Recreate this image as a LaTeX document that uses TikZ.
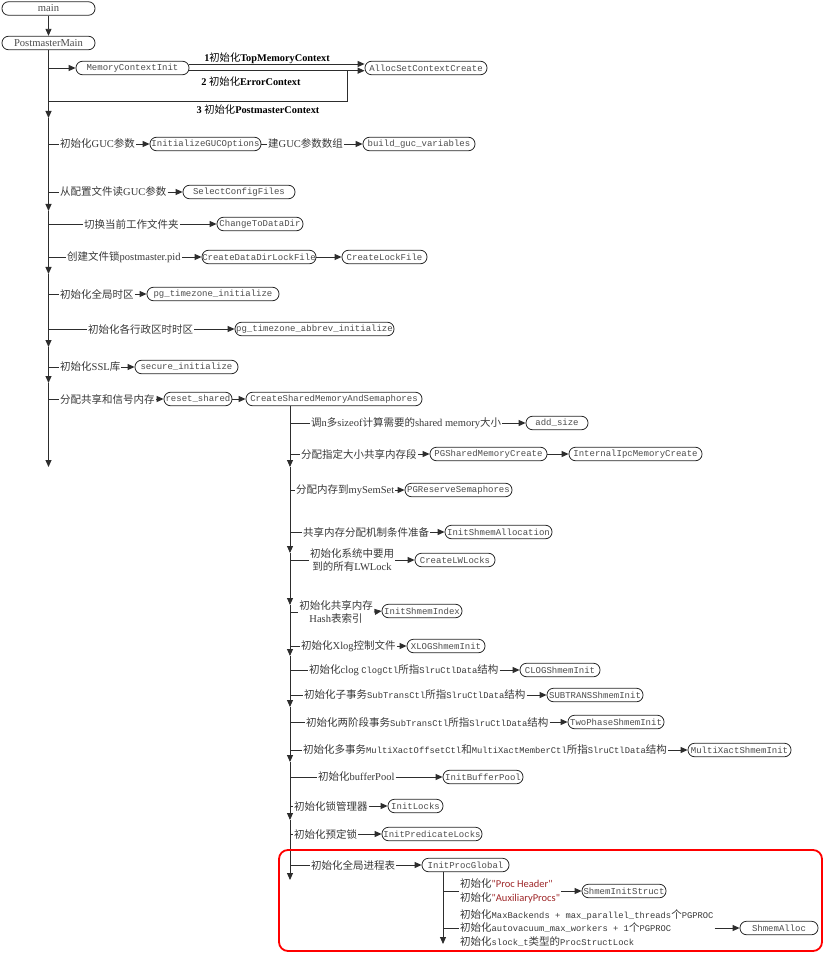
\documentclass[tikz,border=0pt]{standalone}
\usepackage{fontspec}
\setmainfont{Liberation Serif}
\setmonofont{Liberation Mono}
\newfontfamily\cjkfont{Noto Sans CJK SC}
\newfontfamily\qtfont{Carlito}
\usetikzlibrary{arrows.meta}
\definecolor{qred}{RGB}{158,38,40}
\definecolor{linec}{RGB}{45,45,45}
\newcommand\zhtxt[1]{{\cjkfont\mdseries #1}}
\newcommand\mtxt[1]{{\ttfamily\fontsize{8.8}{10}\selectfont #1}}
\newcommand\qtxt[1]{{\qtfont\color{qred}#1}}
% function box: name, left x, right x, centre y, text
\newcommand\fnode[5]{\node[fn,minimum width={#3-#2}] (#1) at ({(#2+#3)/2},#4) {#5};}
% trunk -> label (plain line), label -> function box (arrow)
\newcommand\branch[3]{\draw[conn] (#1 |- #2.west) -- (#2.west); \draw[arr] (#2.east) -- (#3.west);}
\tikzset{
  fn/.style={draw=black!85, line width=0.8pt, fill=white, rounded corners=6.5pt,
    minimum height=13.5pt, inner sep=0pt, text=black!70,
    font=\ttfamily\fontsize{9}{10}\selectfont},
  fnserif/.style={fn, font=\rmfamily\fontsize{10.6}{12}\selectfont},
  lbl/.style={inner sep=1pt, text=black!78, font=\fontsize{10.5}{13.5}\selectfont},
  mlbl/.style={inner sep=0pt, text=black, font=\bfseries\fontsize{10.3}{12}\selectfont},
  conn/.style={draw=linec, line width=0.9pt},
  arr/.style={conn, -{Triangle[length=7pt,width=6pt]}},
  frame/.style={draw=red, line width=1.8pt, rounded corners=9pt}
}
\begin{document}
\begin{tikzpicture}[x=1pt,y=-1pt]
\useasboundingbox (0,0) rectangle (824,957);

% ---------- entry ----------
\node[fnserif, minimum width=93] (main) at (48.5,8.5) {main};
\node[fnserif, minimum width=93] (pm) at (48.5,43) {PostmasterMain};
\draw[arr] (main) -- (pm);

% ---------- PostmasterMain trunk ----------
\coordinate (ta1) at (48.5,118);
\coordinate (ta2) at (48.5,211);
\coordinate (ta3) at (48.5,274);
\coordinate (ta4) at (48.5,347);
\coordinate (ta5) at (48.5,383);
\coordinate (ta6) at (48.5,467);
\draw[arr] (pm.south) -- (ta1);
\draw[arr] (ta1) -- (ta2);
\draw[arr] (ta2) -- (ta3);
\draw[arr] (ta3) -- (ta4);
\draw[arr] (ta4) -- (ta5);
\draw[arr] (ta5) -- (ta6);

% memory contexts
\fnode{mci}{76}{189}{68}{MemoryContextInit}
\fnode{acc}{365}{487}{68}{AllocSetContextCreate}
\draw[arr] (pm.south |- mci.west) -- (mci.west);
\draw[arr] ([yshift=4]mci.east) -- ([yshift=4]acc.west);
\draw[arr] ([yshift=-2.7]mci.east) -- ([yshift=-2.7]acc.west);
\coordinate (m3) at (347,101);
\coordinate (m2) at (347,70.7);
\draw[conn] (pm.south |- m3) -- (m3) -- (m2);
\node[mlbl] (t1) at (267,58.5) {1\zhtxt{初始化}TopMemoryContext};
\node[mlbl] (t2) at (251,82) {2 \zhtxt{初始化}ErrorContext};
\node[mlbl] (t3) at (258,110) {3 \zhtxt{初始化}PostmasterContext};

% GUC
\node[lbl,anchor=west] (lg1) at (59,144) {\zhtxt{初始化}GUC\zhtxt{参数}};
\fnode{igo}{150}{261}{144}{InitializeGUCOptions}
\node[lbl,anchor=west] (lg2) at (267,144) {\zhtxt{建}GUC\zhtxt{参数数组}};
\fnode{bgv}{363}{475}{144}{build\_guc\_variables}
\branch{pm.south}{lg1}{igo}
\draw[conn] (igo.east) -- (lg2.west);
\draw[arr] (lg2.east) -- (bgv.west);

\node[lbl,anchor=west] (lsc) at (59,192) {\zhtxt{从配置文件读}GUC\zhtxt{参数}};
\fnode{scf}{183}{295}{192}{SelectConfigFiles}
\branch{pm.south}{lsc}{scf}

\node[lbl,anchor=west] (lcd) at (83,224) {\zhtxt{切换当前工作文件夹}};
\fnode{cdd}{217}{303}{224}{ChangeToDataDir}
\branch{pm.south}{lcd}{cdd}

\node[lbl,anchor=west] (lcl) at (66,257) {\zhtxt{创建文件锁}postmaster.pid};
\fnode{cdl}{202}{316}{257}{CreateDataDirLockFile}
\fnode{clf}{342}{427}{257}{CreateLockFile}
\branch{pm.south}{lcl}{cdl}
\draw[arr] (cdl.east) -- (clf.west);

\node[lbl,anchor=west] (ltz) at (59,294) {\zhtxt{初始化全局时区}};
\fnode{ptz}{147}{279}{294}{pg\_timezone\_initialize}
\branch{pm.south}{ltz}{ptz}

\node[lbl,anchor=west] (lta) at (87,329) {\zhtxt{初始化各行政区时时区}};
\fnode{pta}{235}{394}{329}{pg\_timezone\_abbrev\_initialize}
\branch{pm.south}{lta}{pta}

\node[lbl,anchor=west] (lsl) at (59,367) {\zhtxt{初始化}SSL\zhtxt{库}};
\fnode{sec}{135}{238}{367}{secure\_initialize}
\branch{pm.south}{lsl}{sec}

\node[lbl,anchor=west] (lrs) at (59,399) {\zhtxt{分配共享和信号内存}};
\fnode{rs}{164}{232}{399}{reset\_shared}
\fnode{csm}{246}{422}{399}{CreateSharedMemoryAndSemaphores}
\branch{pm.south}{lrs}{rs}
\draw[arr] (rs.east) -- (csm.west);

% ---------- CreateSharedMemoryAndSemaphores trunk ----------
\coordinate (tB) at (290,405.75);
\coordinate (tb1) at (290,467);
\coordinate (tb2) at (290,553);
\coordinate (tb3) at (290,605);
\coordinate (tb4) at (290,656);
\coordinate (tb5) at (290,707);
\coordinate (tb6) at (290,762);
\coordinate (tb7) at (290,820);
\coordinate (tb8) at (290,880);
\draw[arr] (tB) -- (tb1);
\draw[arr] (tb1) -- (tb2);
\draw[arr] (tb2) -- (tb3);
\draw[arr] (tb3) -- (tb4);
\draw[arr] (tb4) -- (tb5);
\draw[arr] (tb5) -- (tb6);
\draw[arr] (tb6) -- (tb7);
\draw[arr] (tb7) -- (tb8);

\node[lbl,anchor=west] (lb1) at (310,423) {\zhtxt{调}n\zhtxt{多}sizeof\zhtxt{计算需要的}shared memory\zhtxt{大小}};
\fnode{as}{526}{588}{423}{add\_size}
\branch{tB}{lb1}{as}

\node[lbl,anchor=west] (lb2) at (300,454) {\zhtxt{分配指定大小共享内存段}};
\fnode{psm}{430}{547}{454}{PGSharedMemoryCreate}
\fnode{imc}{569}{702}{454}{InternalIpcMemoryCreate}
\branch{tB}{lb2}{psm}
\draw[arr] (psm.east) -- (imc.west);

\node[lbl,anchor=west] (lb3) at (295,490) {\zhtxt{分配内存到}mySemSet};
\fnode{prs}{405}{512}{490}{PGReserveSemaphores}
\branch{tB}{lb3}{prs}

\node[lbl,anchor=west] (lb4) at (302,532) {\zhtxt{共享内存分配机制条件准备}};
\fnode{isa}{445}{552}{532}{InitShmemAllocation}
\branch{tB}{lb4}{isa}

\node[lbl,align=center] (lb5) at (352,560) {\zhtxt{初始化系统中要用}\\\zhtxt{到的所有}LWLock};
\fnode{clw}{415}{495}{560}{CreateLWLocks}
\branch{tB}{lb5}{clw}

\node[lbl,align=center] (lb6) at (336,612) {\zhtxt{初始化共享内存}\\Hash\zhtxt{表索引}};
\fnode{isi}{382}{462}{611}{InitShmemIndex}
\branch{tB}{lb6}{isi}

\node[lbl,anchor=west] (lb7) at (300,646) {\zhtxt{初始化}Xlog\zhtxt{控制文件}};
\fnode{xsi}{407}{485}{646}{XLOGShmemInit}
\branch{tB}{lb7}{xsi}

\node[lbl,anchor=west] (lb8) at (308,670) {\zhtxt{初始化}clog \mtxt{ClogCtl}\zhtxt{所指}\mtxt{SlruCtlData}\zhtxt{结构}};
\fnode{csi}{520}{600}{670}{CLOGShmemInit}
\branch{tB}{lb8}{csi}

\node[lbl,anchor=west] (lb9) at (303,695) {\zhtxt{初始化子事务}\mtxt{SubTransCtl}\zhtxt{所指}\mtxt{SlruCtlData}\zhtxt{结构}};
\fnode{ssi}{547}{643}{695}{SUBTRANSShmemInit}
\branch{tB}{lb9}{ssi}

\node[lbl,anchor=west] (lb10) at (305,722) {\zhtxt{初始化两阶段事务}\mtxt{SubTransCtl}\zhtxt{所指}\mtxt{SlruCtlData}\zhtxt{结构}};
\fnode{tpsi}{568}{664}{722}{TwoPhaseShmemInit}
\branch{tB}{lb10}{tpsi}

\node[lbl,anchor=west] (lb11) at (302,750) {\zhtxt{初始化多事务}\mtxt{MultiXactOffsetCtl}\zhtxt{和}\mtxt{MultiXactMemberCtl}\zhtxt{所指}\mtxt{SlruCtlData}\zhtxt{结构}};
\fnode{msi}{688}{791}{750}{MultiXactShmemInit}
\branch{tB}{lb11}{msi}

\node[lbl,anchor=west] (lb12) at (317,777) {\zhtxt{初始化}bufferPool};
\fnode{ibp}{443}{523}{777}{InitBufferPool}
\branch{tB}{lb12}{ibp}

\node[lbl,anchor=west] (lb13) at (293,806) {\zhtxt{初始化锁管理器}};
\fnode{il}{388}{443}{806}{InitLocks}
\branch{tB}{lb13}{il}

\node[lbl,anchor=west] (lb14) at (293,834) {\zhtxt{初始化预定锁}};
\fnode{ipl}{382}{482}{834}{InitPredicateLocks}
\branch{tB}{lb14}{ipl}

% ---------- process table ----------
\draw[frame] (279,850) rectangle (822,951);

\node[lbl,anchor=west] (lb15) at (310,865) {\zhtxt{初始化全局进程表}};
\fnode{ipg}{422}{509}{865}{InitProcGlobal}
\branch{tB}{lb15}{ipg}

\coordinate (tC) at (443,871.75);
\coordinate (tc1) at (443,944);
\draw[arr] (tC) -- (tc1);

\node[lbl,anchor=west,align=left] (lc1) at (459,891) {\zhtxt{初始化}\qtxt{"Proc Header"}\\\zhtxt{初始化}\qtxt{"AuxiliaryProcs"}};
\fnode{sis}{582}{666}{891}{ShmemInitStruct}
\branch{tC}{lc1}{sis}

\node[lbl,anchor=west,align=left] (lc2) at (459,928) {\zhtxt{初始化}\mtxt{MaxBackends + max\_parallel\_threads}\zhtxt{个}\mtxt{PGPROC}\\\zhtxt{初始化}\mtxt{autovacuum\_max\_workers + 1}\zhtxt{个}\mtxt{PGPROC}\\\zhtxt{初始化}\mtxt{slock\_t}\zhtxt{类型的}\mtxt{ProcStructLock}};
\fnode{sa}{740}{818}{928}{ShmemAlloc}
\branch{tC}{lc2}{sa}
\end{tikzpicture}
\end{document}
